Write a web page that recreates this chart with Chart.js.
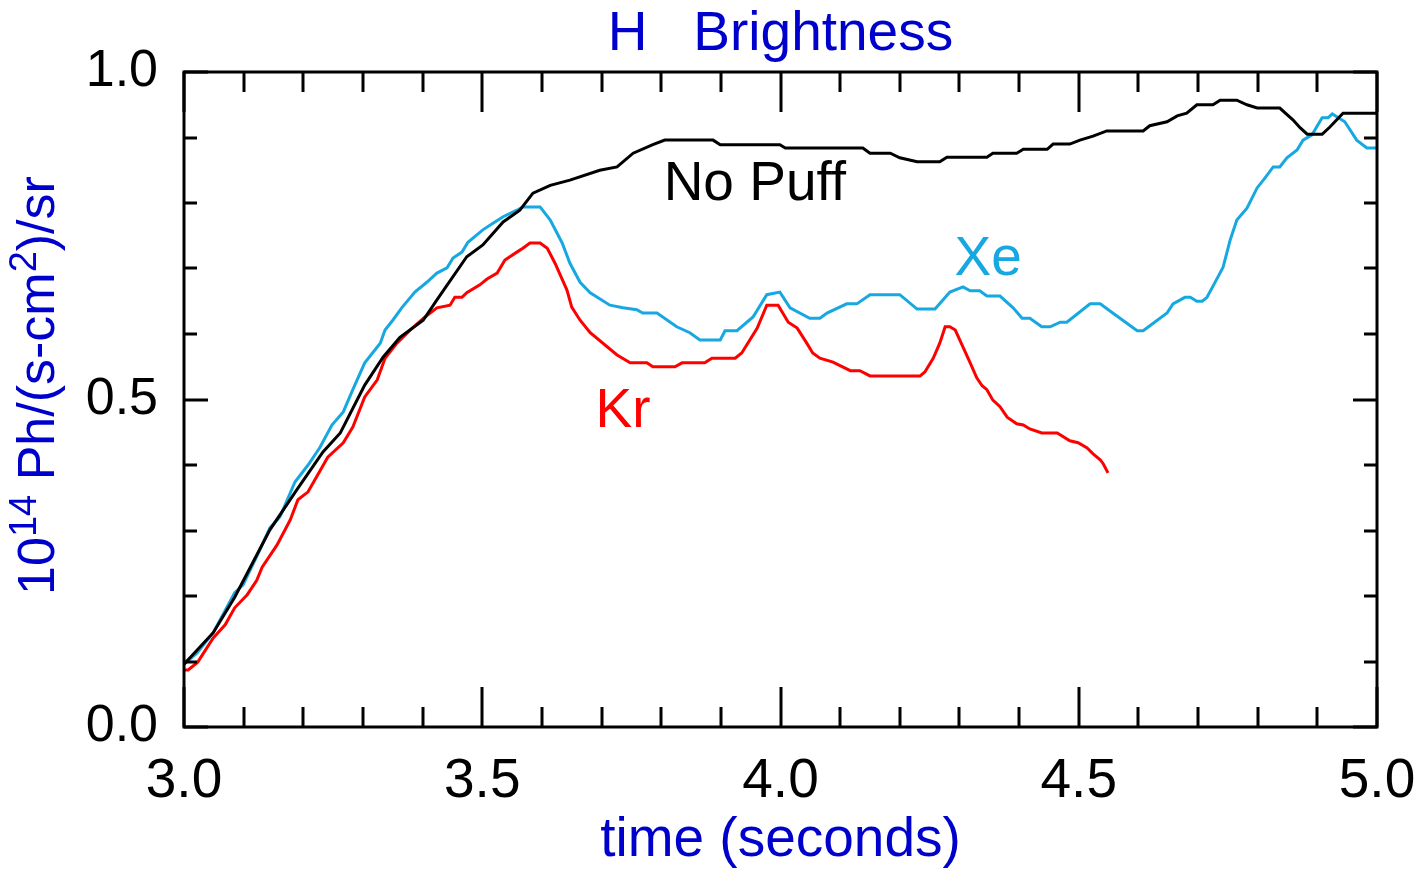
<!DOCTYPE html>
<html>
<head>
<meta charset="utf-8">
<script src="https://cdn.jsdelivr.net/npm/chart.js@4.4.1/dist/chart.umd.min.js"></script>
<style>
body{margin:0;background:#fff;}
canvas{display:block;}
</style>
</head>
<body>
<canvas id="brightChart" width="1424" height="874"></canvas>
<script>
// H brightness traces
const noPuffTime=[3.000,3.049,3.085,3.144,3.189,3.233,3.262,3.303,3.334,3.362,3.401,3.424,3.474,3.501,3.535,3.563,3.585,3.614,3.647,3.697,3.726,3.753,3.786,3.806,3.887,3.899,3.999,4.008,4.138,4.150,4.184,4.200,4.229,4.267,4.279,4.346,4.356,4.396,4.407,4.447,4.457,4.485,4.502,4.524,4.547,4.608,4.619,4.648,4.665,4.681,4.698,4.725,4.737,4.765,4.782,4.799,4.837,4.859,4.871,4.883,4.908,4.921,4.943,5.000];
const noPuffValue=[0.096,0.144,0.198,0.301,0.362,0.420,0.449,0.522,0.565,0.595,0.621,0.652,0.718,0.736,0.771,0.789,0.815,0.827,0.835,0.850,0.855,0.876,0.889,0.896,0.896,0.889,0.889,0.884,0.884,0.876,0.876,0.869,0.863,0.863,0.870,0.870,0.876,0.876,0.882,0.882,0.890,0.890,0.896,0.902,0.910,0.910,0.918,0.924,0.933,0.937,0.950,0.950,0.957,0.957,0.950,0.945,0.945,0.927,0.915,0.905,0.905,0.916,0.937,0.937];

const xeTime=[3.000,3.022,3.035,3.049,3.085,3.099,3.127,3.144,3.161,3.186,3.208,3.228,3.248,3.267,3.283,3.303,3.329,3.337,3.350,3.365,3.387,3.407,3.424,3.441,3.451,3.466,3.476,3.501,3.518,3.535,3.558,3.568,3.597,3.614,3.634,3.647,3.664,3.681,3.714,3.736,3.759,3.769,3.793,3.826,3.848,3.865,3.899,3.907,3.927,3.954,3.977,3.999,4.016,4.049,4.066,4.078,4.111,4.128,4.150,4.200,4.229,4.259,4.284,4.306,4.318,4.334,4.346,4.368,4.390,4.405,4.418,4.438,4.452,4.469,4.480,4.519,4.536,4.557,4.598,4.608,4.648,4.658,4.678,4.687,4.698,4.707,4.715,4.728,4.742,4.754,4.765,4.782,4.799,4.812,4.826,4.837,4.849,4.866,4.876,4.891,4.908,4.918,4.925,4.946,4.966,4.983,5.000];
const xeValue=[0.096,0.113,0.128,0.144,0.205,0.217,0.270,0.304,0.321,0.374,0.400,0.427,0.461,0.481,0.515,0.556,0.586,0.606,0.621,0.640,0.664,0.679,0.693,0.701,0.716,0.725,0.740,0.759,0.769,0.779,0.789,0.794,0.794,0.774,0.739,0.708,0.679,0.663,0.644,0.640,0.637,0.632,0.632,0.611,0.602,0.591,0.591,0.605,0.605,0.626,0.660,0.664,0.640,0.624,0.624,0.632,0.646,0.646,0.660,0.660,0.638,0.638,0.664,0.672,0.666,0.666,0.658,0.658,0.640,0.624,0.624,0.611,0.611,0.618,0.618,0.646,0.646,0.632,0.605,0.605,0.632,0.646,0.656,0.656,0.650,0.650,0.656,0.678,0.702,0.744,0.774,0.792,0.823,0.838,0.855,0.855,0.869,0.881,0.896,0.904,0.930,0.930,0.936,0.924,0.896,0.884,0.884];

const krTime=[3.000,3.007,3.023,3.049,3.069,3.085,3.106,3.122,3.131,3.156,3.178,3.191,3.208,3.241,3.267,3.283,3.303,3.324,3.337,3.357,3.379,3.404,3.424,3.446,3.454,3.466,3.474,3.496,3.508,3.525,3.538,3.558,3.568,3.580,3.597,3.609,3.622,3.642,3.650,3.664,3.681,3.726,3.748,3.776,3.786,3.823,3.835,3.873,3.885,3.924,3.935,3.961,3.977,3.996,4.013,4.028,4.044,4.054,4.066,4.088,4.117,4.133,4.150,4.234,4.242,4.256,4.267,4.276,4.284,4.293,4.306,4.318,4.329,4.338,4.346,4.356,4.368,4.380,4.396,4.407,4.418,4.438,4.464,4.485,4.499,4.514,4.524,4.536,4.541,4.549];
const krValue=[0.087,0.087,0.099,0.136,0.156,0.182,0.202,0.224,0.244,0.278,0.316,0.347,0.359,0.412,0.434,0.458,0.504,0.530,0.563,0.586,0.606,0.626,0.640,0.644,0.656,0.656,0.663,0.675,0.684,0.693,0.713,0.725,0.731,0.739,0.739,0.731,0.708,0.667,0.641,0.621,0.602,0.568,0.556,0.556,0.550,0.550,0.556,0.556,0.563,0.563,0.571,0.609,0.644,0.644,0.618,0.609,0.586,0.571,0.563,0.557,0.544,0.544,0.536,0.536,0.542,0.563,0.586,0.611,0.611,0.606,0.580,0.556,0.533,0.521,0.515,0.499,0.489,0.473,0.463,0.461,0.455,0.449,0.449,0.437,0.434,0.426,0.417,0.408,0.402,0.388];

const seriesNames=["No Puff","Xe","Kr"];
const seriesColors=["#000000","#17a8e1","#ff0000"];
// where each curve's name is written (time, value at text baseline)
const labelTime=[3.957,4.348,3.736];
const labelValue=[0.805,0.690,0.458];

// y axis title pieces: [text, superscript?]
const yTitleParts=[["10",false],["14",true],[" Ph/(s-cm",false],["2",true],[")/sr",false]];

const fontName="'Liberation Sans', Arial, sans-serif";
const titleBlue="#0000cc";

function toPoints(t,v){
    var pts=[];
    for(let i=0;i<t.length;i++){
        pts.push({x:t[i],y:v[i]});
    }
    return pts;
}

// frame with inward ticks on all four sides, curve names, y title with superscripts
const framePlugin={
    id:"frame",
    afterDatasetsDraw(chart){
        const ctx=chart.ctx;
        const a=chart.chartArea;
        const xs=chart.scales.x;
        const ys=chart.scales.y;
        ctx.save();
        ctx.strokeStyle="#000";
        ctx.lineWidth=3;
        ctx.lineCap="butt";
        ctx.beginPath();
        for(let k=0;k<=20;k++){
            let v=3+k*0.1;
            let px=Math.round(xs.getPixelForValue(v));
            let len=(k%5===0)?40:20;
            ctx.moveTo(px,a.bottom);ctx.lineTo(px,a.bottom-len);
            ctx.moveTo(px,a.top);ctx.lineTo(px,a.top+len);
        }
        for(let k=0;k<=10;k++){
            let v=k*0.1;
            let py=Math.round(ys.getPixelForValue(v));
            let len=(k%5===0)?24:13;
            ctx.moveTo(a.left,py);ctx.lineTo(a.left+len,py);
            ctx.moveTo(a.right,py);ctx.lineTo(a.right-len,py);
        }
        ctx.stroke();
        ctx.strokeRect(a.left,a.top,a.right-a.left,a.bottom-a.top);

        ctx.font="55px "+fontName;
        ctx.textAlign="center";
        ctx.textBaseline="alphabetic";
        for(let i=0;i<seriesNames.length;i++){
            ctx.fillStyle=seriesColors[i];
            ctx.fillText(seriesNames[i],xs.getPixelForValue(labelTime[i]),ys.getPixelForValue(labelValue[i]));
        }

        // rotated y axis title
        const bigFont="52px "+fontName;
        const supFont="38px "+fontName;
        let total=0;
        for(const p of yTitleParts){
            ctx.font=p[1]?supFont:bigFont;
            total+=ctx.measureText(p[0]).width;
        }
        ctx.translate(54,(a.top+a.bottom)/2-14);
        ctx.rotate(-Math.PI/2);
        ctx.fillStyle=titleBlue;
        ctx.textAlign="left";
        let pos=-total/2;
        for(const p of yTitleParts){
            ctx.font=p[1]?supFont:bigFont;
            ctx.fillText(p[0],pos,p[1]?-18:0);
            pos+=ctx.measureText(p[0]).width;
        }
        ctx.restore();
    }
};

const allTimes=[noPuffTime,xeTime,krTime];
const allValues=[noPuffValue,xeValue,krValue];
var datasets=[];
for(let i=0;i<seriesNames.length;i++){
    datasets.push({
        label:seriesNames[i],
        data:toPoints(allTimes[i],allValues[i]),
        borderColor:seriesColors[i],
        borderWidth:3,
        pointRadius:0,
        tension:0,
        fill:false
    });
}

new Chart("brightChart",{
    type:"line",
    data:{datasets:datasets},
    options:{
        responsive:false,
        animation:false,
        devicePixelRatio:1,
        layout:{padding:{left:0,right:47,top:0,bottom:0}},
        plugins:{
            legend:{display:false},
            tooltip:{enabled:false},
            title:{
                display:true,
                fullSize:false,
                text:"H   Brightness",
                color:titleBlue,
                font:{family:fontName,size:55,weight:"normal"},
                padding:{top:2,bottom:4}
            }
        },
        scales:{
            x:{
                type:"linear",
                min:3,
                max:5,
                grid:{display:false},
                border:{display:false},
                ticks:{
                    stepSize:0.5,
                    color:"#000",
                    padding:14,
                    maxRotation:0,
                    font:{family:fontName,size:55},
                    callback:function(v){return v.toFixed(1);}
                },
                title:{
                    display:true,
                    text:"time (seconds)",
                    color:titleBlue,
                    font:{family:fontName,size:55},
                    padding:{top:0,bottom:0}
                },
                afterFit:function(scale){
                    scale.height=147;
                    scale.paddingLeft=0;
                    scale.paddingRight=0;
                }
            },
            y:{
                min:0,
                max:1,
                grid:{display:false},
                border:{display:false},
                ticks:{
                    stepSize:0.5,
                    color:"#000",
                    padding:18,
                    font:{family:fontName,size:52},
                    callback:function(v){return v.toFixed(1);}
                },
                title:{display:false},
                afterFit:function(scale){scale.width=184;}
            }
        }
    },
    plugins:[framePlugin]
});
</script>
</body>
</html>
